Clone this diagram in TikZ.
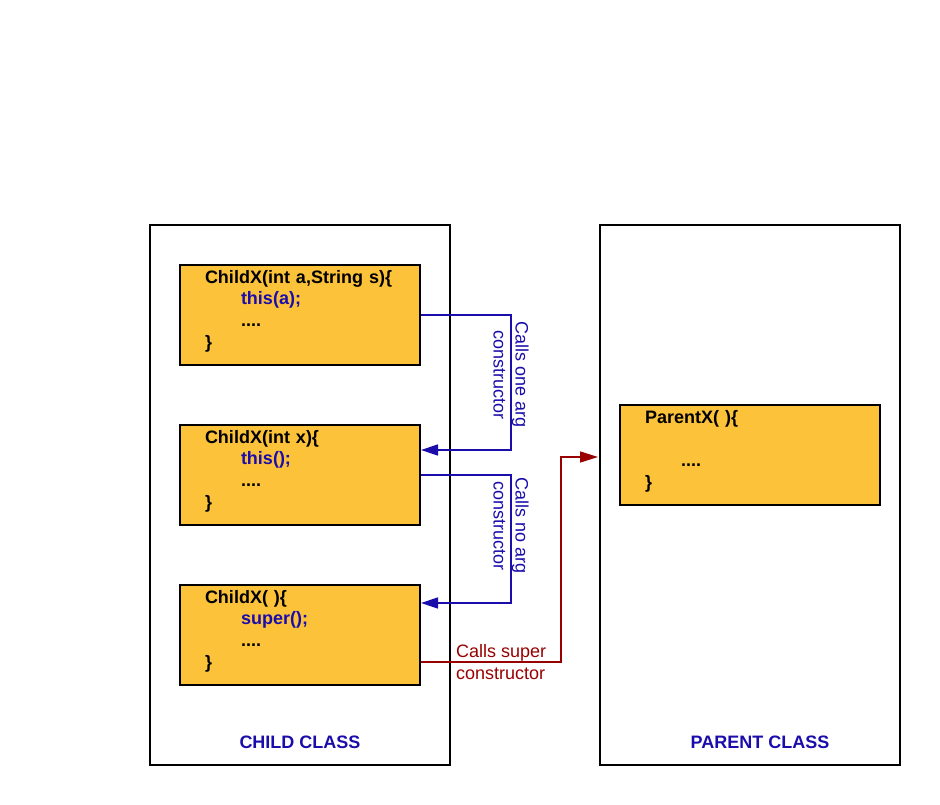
\documentclass[tikz,border=0pt]{standalone}
\usepackage{fontspec}
\setmainfont{Liberation Sans}
\usetikzlibrary{arrows.meta}
\definecolor{codebg}{RGB}{251,194,58}
\definecolor{callblue}{RGB}{26,13,171}
\definecolor{superred}{RGB}{153,0,0}
\tikzset{
	classbox/.style={draw,line width=2pt,minimum width=300pt,minimum height=540pt},
	ctorbox/.style={draw,fill=codebg,line width=2pt,minimum width=240pt,minimum height=100pt,
		text width=190pt,inner xsep=25pt,align=left,font=\bfseries\fontsize{18pt}{21.7pt}\selectfont,
		execute at end node={\\[-10pt]\mbox{}}},
	callline/.style={draw=callblue,line width=1.5pt,-{Triangle[length=17pt,width=11pt]}},
	superline/.style={draw=superred,line width=1.5pt,-{Triangle[length=18pt,width=11pt]}},
	calltext/.style={font=\fontsize{18pt}{22pt}\selectfont,align=center,inner sep=0pt},
}
\newcommand{\ind}{\hspace*{36pt}}
\begin{document}
\begin{tikzpicture}[x=1pt,y=-1pt]
	\useasboundingbox (0,0) rectangle (940,805);
	% class frames
	\node[classbox] (childCls) at (300,495) {};
	\node[classbox] (parentCls) at (750,495) {};
	\node[font=\bfseries\fontsize{18pt}{21.7pt}\selectfont,text=callblue] (childLbl) at (300,742) {CHILD CLASS};
	\node[font=\bfseries\fontsize{18pt}{21.7pt}\selectfont,text=callblue] (parentLbl) at (760,742) {PARENT CLASS};
	% constructors
	\node[ctorbox] (oneArg) at (300,315) {ChildX(int a,String s)\{\\ \ind{\color{callblue}this(a);}\\ \ind....\\ \}};
	\node[ctorbox] (intArg) at (300,475) {ChildX(int x)\{\\ \ind{\color{callblue}this();}\\ \ind....\\ \}};
	\node[ctorbox] (noArg) at (300,635) {ChildX( )\{\\ \ind{\color{callblue}super();}\\ \ind....\\ \}};
	\node[ctorbox,minimum width=260pt,text width=210pt] (parentCtor) at (750,455) {ParentX( )\{\\ \mbox{}\\ \ind....\\ \}};
	% calls
	\draw[callline] (oneArg.east) -- ++(90,0) |- ([yshift=25pt]intArg.east);
	\draw[callline] (intArg.east) -- ++(90,0) |- ([yshift=32pt]noArg.east);
	\draw[superline] ([yshift=-27pt]noArg.east) -- ++(140,0) |- ([yshift=38pt,xshift=-1pt]parentCls.west);
	\node[calltext,text=callblue,rotate=-90] (oneLbl) at (511,375) {Calls one arg\\ constructor};
	\node[calltext,text=callblue,rotate=-90] (noLbl) at (511,526) {Calls no arg\\ constructor};
	\node[calltext,text=superred,align=left,anchor=west] (superLbl) at (456,662) {Calls super\\ constructor};
\end{tikzpicture}
\end{document}
